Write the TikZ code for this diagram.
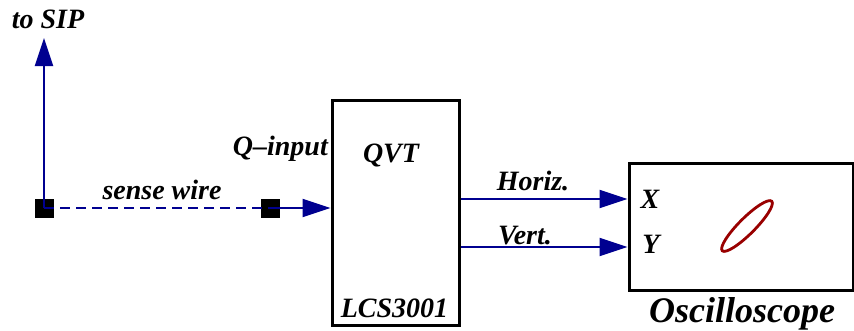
\documentclass[tikz,border=0pt]{standalone}
\usepackage{fontspec}
\setmainfont{Liberation Serif}
\usetikzlibrary{arrows.meta}
\definecolor{wireblue}{HTML}{000090}
\definecolor{tracered}{HTML}{990000}
\begin{document}
\begin{tikzpicture}[x=1pt,y=-1pt,
  lbl/.style={font=\fontsize{28}{30}\selectfont\bfseries\itshape, inner sep=0pt},
  biglbl/.style={font=\fontsize{36}{40}\selectfont\bfseries\itshape, inner sep=0pt},
  blk/.style={draw=black, line width=3pt, fill=white, inner sep=0pt},
  pad/.style={fill=black, inner sep=0pt, minimum size=19pt},
  wire/.style={draw=wireblue, line width=2pt},
  arr/.style={wire, -{Triangle[length=28pt,width=18pt]}}]
\useasboundingbox (0,0) rectangle (854,330);
% boxes
\node[blk, minimum width=127pt, minimum height=225pt] (qvt) at (395.5,212.5) {};
\node[blk, minimum width=224pt, minimum height=127pt] (osc) at (741,226.5) {};
% pads
\node[pad] (sq1) at (44,208) {};
\node[pad] (sq2) at (270,208) {};
\coordinate (sip) at (44,38);
\coordinate (hy) at (0,199);
\coordinate (vy) at (0,247);
% connectors
\draw[arr] (sq1.center) -- (sip);
\draw[wire, dash pattern=on 10pt off 6pt] (sq1.center) -- (sq2.center);
\draw[arr] (sq2.center) -- (sq2.center -| qvt.west);
\draw[arr] (hy -| qvt.east) -- (hy -| osc.west);
\draw[arr] (vy -| qvt.east) -- (vy -| osc.west);
% trace
\draw[tracered, line width=2.8pt, rotate around={45:(747,226)}] (747,226) ellipse [x radius=35pt, y radius=8pt];
% labels
\node[lbl, anchor=base] (tsip) at (48,28) {to SIP};
\node[lbl, anchor=base] (sw) at (162,199) {sense wire};
\node[lbl, anchor=base east] (qin) at (328,155) {Q–input};
\node[lbl, anchor=base] (tqvt) at (391,162) {QVT};
\node[lbl, anchor=base] (lcs) at (394.5,317) {LCS3001};
\node[lbl, anchor=base] (hz) at (533,190) {Horiz.};
\node[lbl, anchor=base] (vt) at (525,244) {Vert.};
\node[lbl, anchor=base] (xl) at (650,208) {X};
\node[lbl, anchor=base] (yl) at (651,253) {Y};
\node[biglbl, anchor=base] (ol) at (742,322) {Oscilloscope};
\end{tikzpicture}
\end{document}
